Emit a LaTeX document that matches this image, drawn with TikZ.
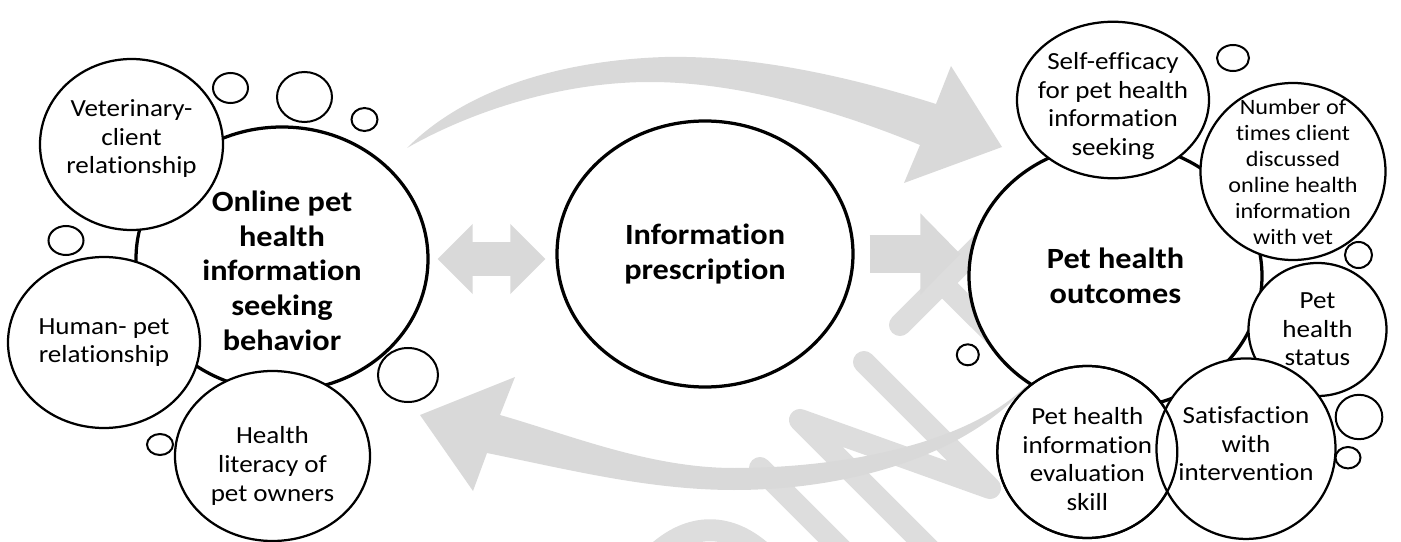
\documentclass[tikz,border=0pt]{standalone}
\usepackage{fontspec}
\setmainfont{Carlito}[FakeStretch=1.1,Ligatures=NoCommon]
\usetikzlibrary{shapes.geometric,arrows.meta}
\definecolor{arrowgray}{HTML}{D9D9D9}
\definecolor{wmgray}{HTML}{DDDDDD}
\pgfdeclarelayer{background}
\pgfsetlayers{background,main}

\tikzstyle{core} = [ellipse,draw=black,line width=0.65mm,fill=white,inner sep=-12mm,align=center,font=\bfseries\fontsize{16.7}{19.7}\selectfont]
\tikzstyle{facet} = [ellipse,draw=black,line width=0.45mm,fill=white,inner sep=-12mm,align=center,font=\fontsize{14}{16.3}\selectfont]
\tikzstyle{puff} = [draw=black,line width=0.4mm,fill=white]
\tikzstyle{swoosh} = [fill=arrowgray]
\tikzstyle{twoway} = [draw=arrowgray,line width=6.8mm,>={Triangle[length=7mm,width=13.6mm]},shorten <=1.6mm,shorten >=2mm]
\tikzstyle{oneway} = [draw=arrowgray,line width=7.6mm,>={Triangle[length=8mm,width=15.8mm]},shorten <=3mm,shorten >=1.4mm]
\tikzstyle{wmark} = [draw=wmgray,line width=4.4mm,line cap=round,line join=round]

\begin{document}
\begin{tikzpicture}[x=0.2mm,y=-0.2mm]
	\useasboundingbox (0,0) rectangle (1401,542);
	\node (seeking) [core,minimum width=58.4mm,minimum height=52.8mm] at (282,259) {\rule{0pt}{25pt}Online pet\\health\\information\\seeking\\behavior};
	\node (vet) [facet,minimum width=36.6mm,minimum height=34.2mm] at (131.5,144.5) {Veterinary-\\client\\relationship\rule[-8.7pt]{0pt}{8.7pt}};
	\node (human) [facet,minimum width=38.4mm,minimum height=34.2mm] at (104,342.5) {Human- pet\\relationship};
	\node (literacy) [facet,minimum width=39mm,minimum height=34mm] at (272.5,456) {\rule{0pt}{21pt}Health\\literacy of\\pet owners};
	\node (info) [core,minimum width=59.2mm,minimum height=53.2mm] at (705,254) {Information\\prescription};
	\node (outcomes) [core,minimum width=58.6mm,minimum height=53mm] at (1115.5,276) {Pet health\\outcomes};
	\node (selfeff) [facet,minimum width=38.4mm,minimum height=31.3mm] at (1113,100) {\rule{0pt}{16.6pt}Self-efficacy\\for pet health\\information\\seeking};
	\node (times) [facet,font=\fontsize{12.5}{14.8}\selectfont,minimum width=37mm,minimum height=35.4mm] at (1293,171.5) {Number of\\times client\\discussed\\online health\\information\\with vet};
	\node (status) [facet,minimum width=27.6mm,minimum height=26.6mm] at (1317.5,329.5) {Pet\\health\\status};
	\node (evalskill) [facet,minimum width=36mm,minimum height=34.4mm] at (1087.3,452) {\rule{0pt}{17.7pt}Pet health\\information\\evaluation\\skill};
	\node (satisf) [facet,minimum width=35.8mm,minimum height=36.1mm] at (1246,448.7) {Satisfaction\\with\\intervention\rule[-5.7pt]{0pt}{5.7pt}};
	\draw [line width=0.45mm] (evalskill.center) ellipse [x radius=18mm,y radius=17.2mm];
	\draw [puff] (230.5,88) ellipse [x radius=3.5mm,y radius=3mm];
	\draw [puff] (304.5,97) ellipse [x radius=5.5mm,y radius=5mm];
	\draw [puff] (364.5,119.5) ellipse [x radius=2.6mm,y radius=2.3mm];
	\draw [puff] (66,240.5) ellipse [x radius=3.5mm,y radius=2.9mm];
	\draw [puff] (408,375) ellipse [x radius=6mm,y radius=5.4mm];
	\draw [puff] (160,444.5) ellipse [x radius=2.6mm,y radius=2.1mm];
	\draw [puff] (1233,58) ellipse [x radius=3.2mm,y radius=2.6mm];
	\draw [puff] (1358.5,255) ellipse [x radius=2.7mm,y radius=2.6mm];
	\draw [puff] (1359,417) ellipse [x radius=4.66mm,y radius=4.44mm];
	\draw [puff] (1348,457.7) ellipse [x radius=2.5mm,y radius=2.14mm];
	\draw [puff] (967.8,354.8) ellipse [x radius=2.2mm,y radius=2.1mm];
	\begin{pgfonlayer}{background}
		\draw [wmark] (655,555) .. controls (690,522) and (730,522) .. (765,555);
		\draw [wmark] (760,468) -- (850,558);
		\draw [wmark] (945,565) -- (800,420) -- (990,488) -- (864,362);
		\draw [wmark] (900,325) -- (985,240);
		\draw [wmark] (942,283) -- (1065,405);
		\fill [swoosh] (407,148) .. controls (470,85) and (570,60) .. (665,57) .. controls (760,55) and (860,80) .. (936,104) -- (951,66) -- (1002,147) -- (904,183) -- (920,145) .. controls (840,112) and (740,82) .. (650,82) .. controls (560,82) and (470,112) .. cycle;
		\fill [swoosh] (420,415) -- (515,377) -- (500,415) .. controls (570,435) and (650,468) .. (734,468) .. controls (840,468) and (970,445) .. (1030,382) .. controls (970,455) and (850,490) .. (734,490) .. controls (650,490) and (570,470) .. (487,453) -- (473,491) -- cycle;
		\draw [twoway,<->] (seeking.east) -- (seeking.east -| info.west);
		\draw [oneway,->] (info.east) -- (info.east -| outcomes.west);
	\end{pgfonlayer}
\end{tikzpicture}
\end{document}
